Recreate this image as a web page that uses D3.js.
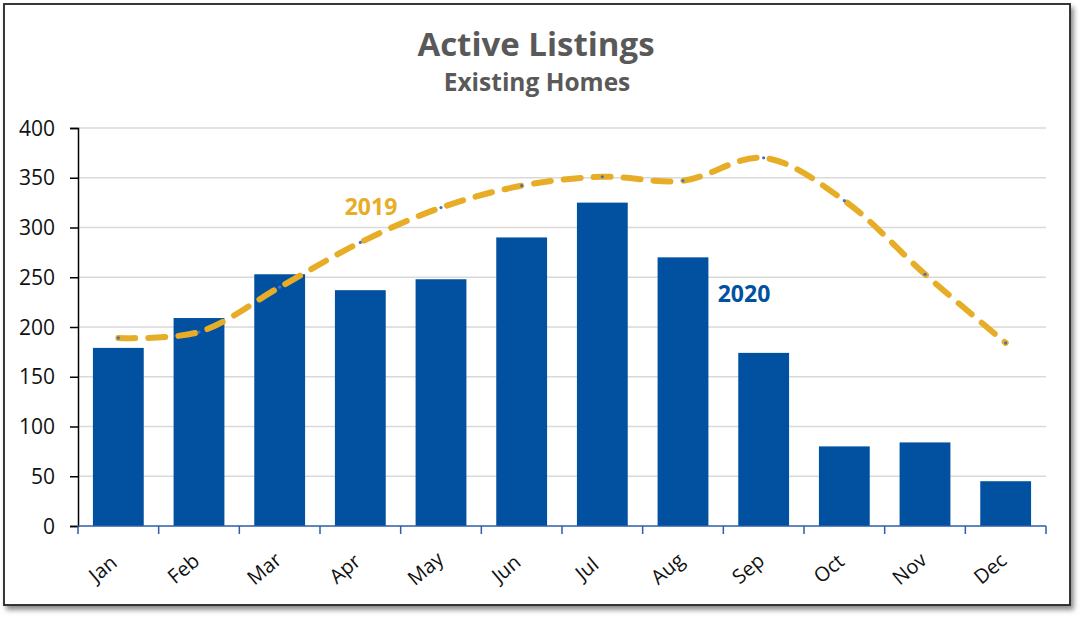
<!DOCTYPE html>
<html>
<head>
<meta charset="utf-8">
<script src="https://cdn.jsdelivr.net/npm/d3@7"></script>
<style>
  body { margin: 0; background: #fff; font-family: "Open Sans", sans-serif; }
</style>
</head>
<body>
<div id="chart"></div>
<script>
var months = ["Jan", "Feb", "Mar", "Apr", "May", "Jun", "Jul", "Aug", "Sep", "Oct", "Nov", "Dec"];
var listings2020 = [179, 209, 253, 237, 248, 290, 325, 270, 174, 80, 84, 45];
var listings2019 = [189, 195, 240, 285, 320, 342, 351, 347, 370, 327, 253, 184];
var yTicks = [0, 50, 100, 150, 200, 250, 300, 350, 400];

var W = 1084, H = 619;
var plotLeft = 78, plotRight = 1046, plotTop = 128, plotBottom = 526;

var svg = d3.select("#chart").append("svg")
    .attr("width", W)
    .attr("height", H);

// frame with shadow
var defs = svg.append("defs");
var f = defs.append("filter").attr("id", "shadow").attr("x", "-5%").attr("y", "-5%").attr("width", "110%").attr("height", "110%");
f.append("feDropShadow").attr("dx", 3).attr("dy", 4).attr("stdDeviation", 2.5).attr("flood-color", "#000").attr("flood-opacity", 0.45);

svg.append("rect")
    .attr("x", 4).attr("y", 4)
    .attr("width", 1066).attr("height", 601)
    .attr("fill", "#fff")
    .attr("stroke", "#222")
    .attr("stroke-width", 1.8)
    .attr("filter", "url(#shadow)");

var x = d3.scaleBand().domain(months).range([plotLeft, plotRight]).paddingInner(0.37).paddingOuter(0.185);
var xb = d3.scaleBand().domain(months).range([plotLeft, plotRight]);
var y = d3.scaleLinear().domain([0, 400]).range([plotBottom, plotTop]);

// gridlines
svg.append("g")
    .selectAll("line")
    .data(yTicks.slice(1))
    .enter()
    .append("line")
    .attr("x1", plotLeft).attr("x2", plotRight)
    .attr("y1", function (d) { return y(d); })
    .attr("y2", function (d) { return y(d); })
    .attr("stroke", "#d9d9d9")
    .attr("stroke-width", 1.3);

// bars
svg.append("g")
    .selectAll("rect")
    .data(listings2020)
    .enter()
    .append("rect")
    .attr("x", function (d, i) { return x(months[i]); })
    .attr("y", function (d) { return y(d); })
    .attr("width", x.bandwidth())
    .attr("height", function (d) { return plotBottom - y(d); })
    .attr("fill", "#0251a0");

// y axis
var yAxis = svg.append("g")
    .attr("transform", "translate(" + plotLeft + ",0)")
    .call(d3.axisLeft(y).tickValues(yTicks).tickSize(8).tickPadding(15));
yAxis.select(".domain").attr("stroke", "#000").attr("stroke-width", 1.5);
yAxis.selectAll(".tick line").attr("stroke", "#000").attr("stroke-width", 1.5);
yAxis.selectAll("text")
    .attr("font-family", "Open Sans")
    .attr("font-size", 21)
    .attr("dy", "0.34em")
    .attr("fill", "#111");

// x axis with boundary ticks
var xAxis = svg.append("g").attr("transform", "translate(0," + plotBottom + ")");
xAxis.append("line")
    .attr("x1", plotLeft).attr("x2", plotRight)
    .attr("stroke", "#2d5ea8").attr("stroke-width", 1.5);
xAxis.selectAll(".bt")
    .data(months.concat(["end"]))
    .enter()
    .append("line")
    .attr("class", "bt")
    .attr("x1", function (d, i) { return i < 12 ? xb(d) : plotRight; })
    .attr("x2", function (d, i) { return i < 12 ? xb(d) : plotRight; })
    .attr("y1", 0).attr("y2", 8)
    .attr("stroke", "#2d5ea8").attr("stroke-width", 1.5);
xAxis.selectAll(".lbl")
    .data(months)
    .enter()
    .append("text")
    .attr("class", "lbl")
    .text(function (d) { return d; })
    .attr("transform", function (d) {
        return "translate(" + (xb(d) + xb.bandwidth() / 2 - 11) + ",48) rotate(-40)";
    })
    .attr("text-anchor", "middle")
    .attr("font-family", "Open Sans")
    .attr("font-size", 20)
    .attr("fill", "#111");

// 2019 line
var line = d3.line()
    .x(function (d, i) { return xb(months[i]) + xb.bandwidth() / 2; })
    .y(function (d) { return y(d); })
    .curve(d3.curveCatmullRom.alpha(0.5));

svg.append("path")
    .datum(listings2019)
    .attr("d", line)
    .attr("fill", "none")
    .attr("stroke", "#e8ad27")
    .attr("stroke-width", 6)
    .attr("stroke-linecap", "round")
    .attr("stroke-dasharray", "17,13");

svg.append("g")
    .selectAll("circle")
    .data(listings2019)
    .enter()
    .append("circle")
    .attr("cx", function (d, i) { return xb(months[i]) + xb.bandwidth() / 2; })
    .attr("cy", function (d) { return y(d); })
    .attr("r", 1.6)
    .attr("fill", "#4472c4");

// series labels
svg.append("text")
    .text("2019")
    .attr("x", 371).attr("y", 215)
    .attr("text-anchor", "middle")
    .attr("font-family", "Open Sans")
    .attr("font-weight", "bold")
    .attr("font-size", 23)
    .attr("fill", "#e8ad27");

svg.append("text")
    .text("2020")
    .attr("x", 744).attr("y", 302)
    .attr("text-anchor", "middle")
    .attr("font-family", "Open Sans")
    .attr("font-weight", "bold")
    .attr("font-size", 23)
    .attr("fill", "#0251a0");

// titles
svg.append("text")
    .text("Active Listings")
    .attr("x", 536).attr("y", 56)
    .attr("text-anchor", "middle")
    .attr("font-family", "Open Sans")
    .attr("font-weight", "bold")
    .attr("font-size", 33)
    .attr("fill", "#595959");

svg.append("text")
    .text("Existing Homes")
    .attr("x", 537).attr("y", 91)
    .attr("text-anchor", "middle")
    .attr("font-family", "Open Sans")
    .attr("font-weight", "bold")
    .attr("font-size", 24.5)
    .attr("fill", "#595959");
</script>
</body>
</html>
